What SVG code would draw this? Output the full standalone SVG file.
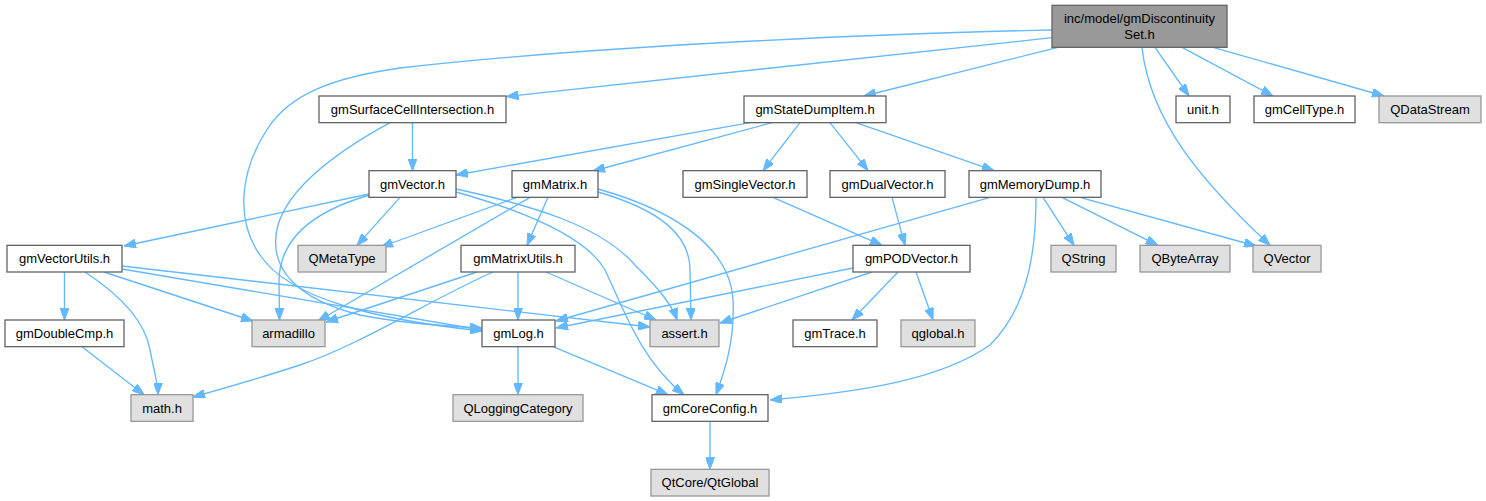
<svg xmlns="http://www.w3.org/2000/svg" width="1486" height="501" viewBox="0 0 1486 501">
<style>
.e{fill:none;stroke:#63b8ff;stroke-width:1.33;marker-end:url(#ah)}
.n rect{fill:#ffffff;stroke:#666666;stroke-width:1.33}
.x rect{fill:#e0e0e0;stroke:#999999;stroke-width:1.33}
.r rect{fill:#999999;stroke:#666666;stroke-width:1.33}
text{font-family:"Liberation Sans",Arial,sans-serif;font-size:13px;fill:#000000;text-anchor:middle}
</style>
<defs>
<marker id="ah" viewBox="0 0 12 9" refX="12" refY="4.5" markerWidth="12" markerHeight="9" markerUnits="userSpaceOnUse" orient="auto">
<path d="M0,0 L12,4.5 L0,9 Z" fill="#63b8ff" stroke="#63b8ff" stroke-width="1"/>
</marker>
</defs>
<rect x="0" y="0" width="1486" height="501" fill="#ffffff"/>
<g id="edges">
<path class="e" d="M1052,37.7 L506.5,96.5"/>
<path class="e" d="M1058,47.33 L864,96"/>
<path class="e" d="M1155,47.33 L1189,96"/>
<path class="e" d="M1182,47.33 L1273,96"/>
<path class="e" d="M1213,47.33 L1384,96"/>
<path class="e" d="M1142,47.33 C1150,120 1200,180 1270,245.33"/>
<path class="e" d="M1052,30 C900,33 600,45 400,68 C330,78 290,95 268,128 C240,170 235,220 260,255 C290,300 380,320 482,331"/>
<path class="e" d="M412.5,122.67 L412.5,170.67"/>
<path class="e" d="M390,122.67 C340,150 290,185 278,225 C266,270 300,300 360,315 C400,323 440,326 482,328"/>
<path class="e" d="M750,122.67 L456,175"/>
<path class="e" d="M772,122.67 L593,171"/>
<path class="e" d="M800,122.67 L763,170.67"/>
<path class="e" d="M830,122.67 L868,170.67"/>
<path class="e" d="M856,122.67 L994,170.67"/>
<path class="e" d="M369,194 L124,246"/>
<path class="e" d="M400,197.33 L357,245.33"/>
<path class="e" d="M370,195 C310,212 280,240 279,280 L279.5,320"/>
<path class="e" d="M456,189 C530,205 600,225 635,265 C660,290 672,305 677,320"/>
<path class="e" d="M456,192 C520,210 585,235 605,270 C622,305 640,360 684,394.67"/>
<path class="e" d="M517,197.33 L381,247"/>
<path class="e" d="M530,197.33 L318,321"/>
<path class="e" d="M548,197.33 L527,245.33"/>
<path class="e" d="M598,192 C660,210 690,235 690,270 L691,320"/>
<path class="e" d="M598,189 C680,212 730,250 733,300 C735,340 725,370 716,394.67"/>
<path class="e" d="M64.5,272 L64.5,320"/>
<path class="e" d="M85,272 C120,295 145,320 150,350 C155,375 158,385 158,394.67"/>
<path class="e" d="M104,272 L253,321"/>
<path class="e" d="M122,269 L482,330"/>
<path class="e" d="M122,266 L650,327"/>
<path class="e" d="M477,272 L326,322"/>
<path class="e" d="M493,272 C430,300 360,345 300,365 C260,378 225,388 193,397"/>
<path class="e" d="M518,272 L518,320"/>
<path class="e" d="M546,272 L656,320"/>
<path class="e" d="M773,197.33 L882,245.33"/>
<path class="e" d="M892,197.33 L905,245.33"/>
<path class="e" d="M990,197.33 L556,321"/>
<path class="e" d="M1043,197.33 L1074,245.33"/>
<path class="e" d="M1062,197.33 L1158,245.33"/>
<path class="e" d="M1080,197.33 L1256,246"/>
<path class="e" d="M1036,197.33 C1036,260 1025,310 990,345 C940,380 860,392 770,400"/>
<path class="e" d="M853,268 L556,328"/>
<path class="e" d="M872,272 L720,323"/>
<path class="e" d="M898,272 L852,320"/>
<path class="e" d="M916,272 L933,320"/>
<path class="e" d="M82,346.67 L144,394.67"/>
<path class="e" d="M518,346.67 L518,394.67"/>
<path class="e" d="M553,346.67 L668,394.67"/>
<path class="e" d="M710,421.33 L710,469.33"/>
</g>
<g id="node1" class="r"><rect x="1052" y="5.33" width="175" height="42"/><text x="1139.5" y="22.5">inc/model/gmDiscontinuity</text><text x="1139.5" y="38.5">Set.h</text></g>
<g id="node2" class="n"><rect x="319" y="96" width="187" height="26.67"/><text x="412.5" y="114">gmSurfaceCellIntersection.h</text></g>
<g id="node3" class="n"><rect x="744" y="96" width="142" height="26.67"/><text x="815" y="114">gmStateDumpItem.h</text></g>
<g id="node4" class="n"><rect x="1176" y="96" width="54" height="26.67"/><text x="1203" y="114">unit.h</text></g>
<g id="node5" class="n"><rect x="1254" y="96" width="101" height="26.67"/><text x="1304.5" y="114">gmCellType.h</text></g>
<g id="node6" class="x"><rect x="1379" y="96" width="102" height="26.67"/><text x="1430" y="114">QDataStream</text></g>
<g id="node7" class="n"><rect x="369" y="170.67" width="87" height="26.67"/><text x="412.5" y="188.67">gmVector.h</text></g>
<g id="node8" class="n"><rect x="512" y="170.67" width="86" height="26.67"/><text x="555" y="188.67">gmMatrix.h</text></g>
<g id="node9" class="n"><rect x="683" y="170.67" width="124" height="26.67"/><text x="745" y="188.67">gmSingleVector.h</text></g>
<g id="node10" class="n"><rect x="830" y="170.67" width="115" height="26.67"/><text x="887.5" y="188.67">gmDualVector.h</text></g>
<g id="node11" class="n"><rect x="969" y="170.67" width="132" height="26.67"/><text x="1035" y="188.67">gmMemoryDump.h</text></g>
<g id="node12" class="n"><rect x="7" y="245.33" width="115" height="26.67"/><text x="64.5" y="263.33">gmVectorUtils.h</text></g>
<g id="node13" class="x"><rect x="298" y="245.33" width="88" height="26.67"/><text x="342" y="263.33">QMetaType</text></g>
<g id="node14" class="n"><rect x="461" y="245.33" width="114" height="26.67"/><text x="518" y="263.33">gmMatrixUtils.h</text></g>
<g id="node15" class="n"><rect x="853" y="245.33" width="117" height="26.67"/><text x="911.5" y="263.33">gmPODVector.h</text></g>
<g id="node16" class="x"><rect x="1051" y="245.33" width="65" height="26.67"/><text x="1083.5" y="263.33">QString</text></g>
<g id="node17" class="x"><rect x="1140" y="245.33" width="90" height="26.67"/><text x="1185" y="263.33">QByteArray</text></g>
<g id="node18" class="x"><rect x="1253" y="245.33" width="68" height="26.67"/><text x="1287" y="263.33">QVector</text></g>
<g id="node19" class="n"><rect x="5" y="320" width="119" height="26.67"/><text x="64.5" y="338">gmDoubleCmp.h</text></g>
<g id="node20" class="x"><rect x="252" y="320" width="73" height="26.67"/><text x="288.5" y="338">armadillo</text></g>
<g id="node21" class="n"><rect x="482" y="320" width="73" height="26.67"/><text x="518.5" y="338">gmLog.h</text></g>
<g id="node22" class="x"><rect x="650" y="320" width="69" height="26.67"/><text x="684.5" y="338">assert.h</text></g>
<g id="node23" class="n"><rect x="793" y="320" width="84" height="26.67"/><text x="835" y="338">gmTrace.h</text></g>
<g id="node24" class="x"><rect x="901" y="320" width="74" height="26.67"/><text x="938" y="338">qglobal.h</text></g>
<g id="node25" class="x"><rect x="131" y="394.67" width="62" height="26.67"/><text x="162" y="412.67">math.h</text></g>
<g id="node26" class="x"><rect x="453" y="394.67" width="130" height="26.67"/><text x="518" y="412.67">QLoggingCategory</text></g>
<g id="node27" class="n"><rect x="652" y="394.67" width="116" height="26.67"/><text x="710" y="412.67">gmCoreConfig.h</text></g>
<g id="node28" class="x"><rect x="651" y="469.33" width="118" height="26.67"/><text x="710" y="487.33">QtCore/QtGlobal</text></g>
</svg>
